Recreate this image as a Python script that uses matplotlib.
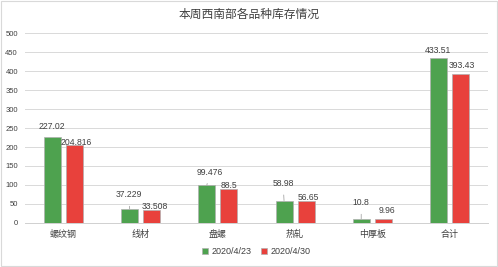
import numpy as np
import matplotlib
matplotlib.use('Agg')
import matplotlib.pyplot as plt
from matplotlib.patches import Rectangle

plt.rcParams['font.family'] = ['Liberation Sans', 'Noto Sans CJK SC', 'DejaVu Sans']

# Data
categories = ['螺纹钢', '线材', '盘螺', '热轧', '中厚板', '合计']
series_names = ['2020/4/23', '2020/4/30']
week1 = [227.02, 37.229, 99.476, 58.98, 10.8, 433.51]
week2 = [204.816, 33.508, 88.5, 56.65, 9.96, 393.43]
labels1 = ['227.02', '37.229', '99.476', '58.98', '10.8', '433.51']
labels2 = ['204.816', '33.508', '88.5', '56.65', '9.96', '393.43']
title = '本周西南部各品种库存情况'

# Label offsets in pixels (dx, dy) from the bar top, and whether a leader line is drawn
offsets1 = [(-1, 10), (-1, 14), (3, 13), (-1, 17), (0, 16), (0, 8)]
offsets2 = [(1.5, 3), (3, 4), (0, 4), (2.5, 4), (4, 9), (1, 8.5)]
leader1 = [False, True, True, True, True, False]

GREEN = '#4ea24f'
RED = '#e8413c'
EDGE = '#b0b0b0'
TEXT = '#404040'

fig = plt.figure(figsize=(4.98, 2.67), dpi=100)
ax = fig.add_axes([0.050, 0.165, 0.930, 0.711])

x = np.arange(len(categories))
shift = 0.143
width = 0.22
b1 = ax.bar(x - shift, week1, width, color=GREEN, edgecolor=EDGE, linewidth=0.5,
            label=series_names[0], zorder=3)
b2 = ax.bar(x + shift, week2, width, color=RED, edgecolor=EDGE, linewidth=0.5,
            label=series_names[1], zorder=3)

def add_labels(bars, texts, offsets, leaders=None):
    for i, (bar, txt, off) in enumerate(zip(bars, texts, offsets)):
        xc = bar.get_x() + bar.get_width() / 2
        yt = bar.get_height()
        props = None
        if leaders is not None and leaders[i]:
            props = dict(arrowstyle='-', color='#a6a6a6', lw=0.6,
                         shrinkA=3, shrinkB=0)
        ax.annotate(txt, xy=(xc, yt), xytext=off, textcoords='offset pixels',
                    ha='center', va='center', fontsize=6.2, color=TEXT,
                    arrowprops=props, zorder=5)

add_labels(b1, labels1, offsets1, leader1)
add_labels(b2, labels2, offsets2)

ax.set_xlim(-0.5, len(categories) - 0.5)
ax.set_ylim(0, 500)
ax.set_yticks(np.arange(0, 501, 50))
ax.set_xticks(x)
ax.set_xticklabels(categories, fontsize=6.5, color=TEXT)
ax.tick_params(axis='y', labelsize=5.5, colors=TEXT, length=0, pad=5)
ax.tick_params(axis='x', length=0, pad=5)
ax.grid(axis='y', color='#d9d9d9', linewidth=0.7, zorder=0)
ax.set_axisbelow(True)
for side in ['top', 'right', 'left']:
    ax.spines[side].set_visible(False)
ax.spines['bottom'].set_color('#d0d0d0')
ax.spines['bottom'].set_linewidth(0.7)

fig.text(0.5, 0.945, title, ha='center', va='center', fontsize=8.5, color=TEXT)

leg = ax.legend(loc='center', bbox_to_anchor=(0.5, -0.153), ncol=2, frameon=False,
                fontsize=6.5, handlelength=0.7, handleheight=0.7, handletextpad=0.4,
                columnspacing=1.0, labelcolor=TEXT)

fig.patches.append(Rectangle((0.002, 0.004), 0.996, 0.992, transform=fig.transFigure,
                             fill=False, edgecolor='#d9d9d9', linewidth=0.8))

fig.savefig('out.png', dpi=100)
